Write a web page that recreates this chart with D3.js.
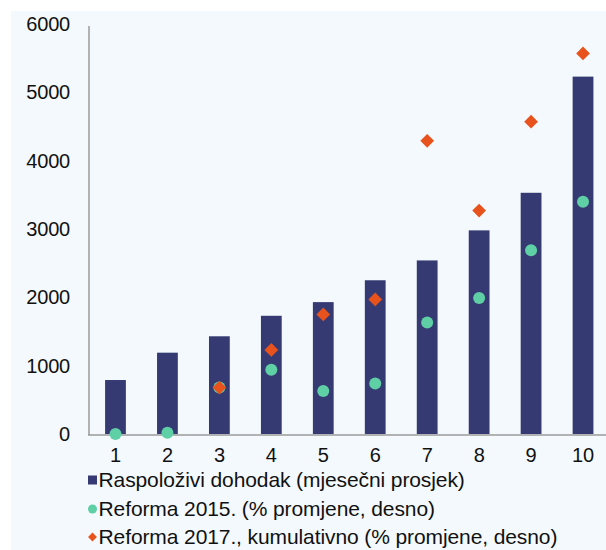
<!DOCTYPE html>
<html>
<head>
<meta charset="utf-8">
<script src="https://cdn.jsdelivr.net/npm/d3@7"></script>
<style>
  body { margin: 0; background: #fff; }
  svg text { font-family: "Liberation Sans", Arial, sans-serif; fill: #111; }
</style>
</head>
<body>
<div id="chart"></div>
<script>
// deciles
const deciles = ["1", "2", "3", "4", "5", "6", "7", "8", "9", "10"];
// disposable income, monthly average (left axis)
const income = [790, 1190, 1430, 1730, 1930, 2250, 2540, 2980, 3530, 5230];
// % change, right axis (not drawn)
const reform2015 = [0, 0.02, 0.68, 0.94, 0.63, 0.74, 1.63, 1.99, 2.69, 3.40];
const reform2017 = [null, null, 0.68, 1.23, 1.75, 1.97, 4.29, 3.27, 4.57, 5.57];
const leftTicks = [0, 1000, 2000, 3000, 4000, 5000, 6000];
const legendLabels = [
  "Raspoloživi dohodak (mjesečni prosjek)",
  "Reforma 2015. (% promjene, desno)",
  "Reforma 2017., kumulativno (% promjene, desno)"
];

const width = 606, height = 550;
const navy = "#353b72", green = "#5fcfa5", orange = "#e8521c";

const svg = d3.select("#chart").append("svg")
    .attr("width", width)
    .attr("height", height);

svg.append("rect")
    .attr("x", 11).attr("y", 11)
    .attr("width", width - 11).attr("height", height - 11)
    .attr("fill", "#f4f9fd");

const x = d3.scaleBand()
    .domain(deciles)
    .range([89.5, 609])
    .paddingInner(0.6)
    .paddingOuter(0.3);

const y = d3.scaleLinear().domain([0, 6000]).range([434, 24]);
const yRight = d3.scaleLinear().domain([0, 6]).range([434, 24]);

// left axis labels
svg.append("g")
    .selectAll("text")
    .data(leftTicks)
    .join("text")
    .attr("x", 70)
    .attr("y", d => y(d))
    .attr("dy", "0.35em")
    .attr("text-anchor", "end")
    .attr("font-size", 20)
    .attr("letter-spacing", -0.2)
    .text(d => d);

// bars
svg.append("g")
    .attr("fill", navy)
    .selectAll("rect")
    .data(income)
    .join("rect")
    .attr("x", (d, i) => x(deciles[i]))
    .attr("y", d => y(d))
    .attr("width", x.bandwidth())
    .attr("height", d => y(0) - y(d));

// axis lines
svg.append("line")
    .attr("x1", 89).attr("x2", 89)
    .attr("y1", 26).attr("y2", 435)
    .attr("stroke", "#9a9a9a").attr("stroke-width", 1.5);
svg.append("line")
    .attr("x1", 88).attr("x2", width)
    .attr("y1", 435).attr("y2", 435)
    .attr("stroke", "#9a9a9a").attr("stroke-width", 1.5);

// x labels
svg.append("g")
    .selectAll("text")
    .data(deciles)
    .join("text")
    .attr("x", d => x(d) + x.bandwidth() / 2)
    .attr("y", 455)
    .attr("dy", "0.35em")
    .attr("text-anchor", "middle")
    .attr("font-size", 20)
    .attr("letter-spacing", -0.2)
    .text(d => d);

// reform 2015 circles
svg.append("g")
    .selectAll("circle")
    .data(reform2015)
    .join("circle")
    .attr("cx", (d, i) => x(deciles[i]) + x.bandwidth() / 2)
    .attr("cy", d => yRight(d))
    .attr("r", 6)
    .attr("fill", green);

// reform 2017 diamonds
const diamond = d3.symbol().type(d3.symbolDiamond2).size(120);
svg.append("g")
    .selectAll("path")
    .data(reform2017.map((v, i) => ({ v, i })).filter(d => d.v !== null))
    .join("path")
    .attr("d", diamond)
    .attr("fill", orange)
    .attr("transform", d => `translate(${x(deciles[d.i]) + x.bandwidth() / 2},${yRight(d.v)})`);

// legend
const legend = svg.append("g");
const rows = [480, 509, 537];
legendLabels.forEach((label, i) => {
  const g = legend.append("g").attr("transform", `translate(92.5,${rows[i]})`);
  if (i === 0) g.append("rect").attr("x", -4.5).attr("y", -4.5).attr("width", 9).attr("height", 9).attr("fill", navy);
  if (i === 1) g.append("circle").attr("r", 4.5).attr("fill", green);
  if (i === 2) g.append("path").attr("d", d3.symbol().type(d3.symbolDiamond2).size(50)).attr("fill", orange);
  g.append("text")
    .attr("x", 6)
    .attr("dy", "0.35em")
    .attr("font-size", 21)
    .attr("letter-spacing", -0.1)
    .text(label);
});
</script>
</body>
</html>
